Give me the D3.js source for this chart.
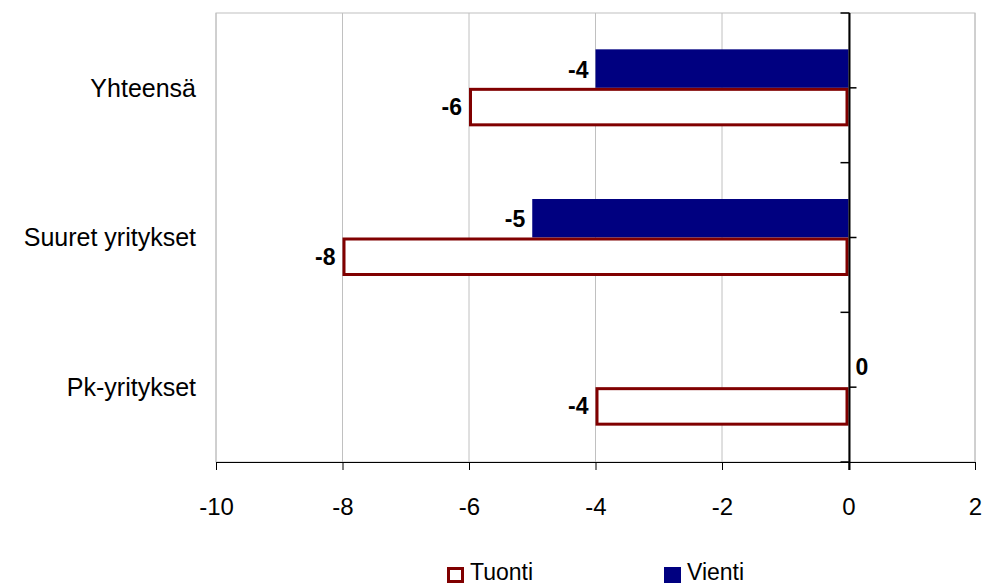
<!DOCTYPE html>
<html><head><meta charset="utf-8">
<script src="https://cdn.jsdelivr.net/npm/d3@7"></script>
<style>body{margin:0;background:#fff}svg{display:block}text{font-family:Arial,"Liberation Sans",sans-serif}</style>
</head><body>
<svg id="c" width="986" height="585"></svg>
<script>
const categories = ["Yhteensä", "Suuret yritykset", "Pk-yritykset"];
const tuonti = [-6, -8, -4];
const vienti = [-4, -5, 0];
const xTicks = [-10, -8, -6, -4, -2, 0, 2];
const seriesNames = ["Tuonti", "Vienti"];

const svg = d3.select("#c");
const L = 216, R = 975, T = 13, B = 462;
const x = d3.scaleLinear().domain([-10, 2]).range([L, R]);
const y = d3.scaleBand().domain(categories).range([T, B]);
const barH = 38.5;

// gridlines
svg.append("g").selectAll("line").data(xTicks).join("line")
  .attr("x1", d => x(d)).attr("x2", d => x(d)).attr("y1", T).attr("y2", B)
  .attr("stroke", "#c0c0c0").attr("stroke-width", 1);
// plot border
svg.append("rect").attr("x", L).attr("y", T).attr("width", R - L).attr("height", B - T)
  .attr("fill", "none").attr("stroke", "#c0c0c0").attr("stroke-width", 1);

// Vienti bars
svg.append("g").selectAll("rect").data(categories).join("rect")
  .attr("x", (d, i) => x(Math.min(0, vienti[i])))
  .attr("y", d => y(d) + y.bandwidth() / 2 - barH)
  .attr("width", (d, i) => Math.abs(x(vienti[i]) - x(0)))
  .attr("height", barH)
  .attr("fill", "#000080");
// Tuonti bars
svg.append("g").selectAll("rect").data(categories).join("rect")
  .attr("x", (d, i) => x(Math.min(0, tuonti[i])) + 1.5)
  .attr("y", d => y(d) + y.bandwidth() / 2 + 1.5)
  .attr("width", (d, i) => Math.abs(x(tuonti[i]) - x(0)) - 3)
  .attr("height", barH - 3)
  .attr("fill", "#fff").attr("stroke", "#800000").attr("stroke-width", 3);

// axes
const xAxis = d3.axisBottom(x).tickValues(xTicks).tickSize(8).tickFormat(d3.format("d"));
const gx = svg.append("g").attr("transform", `translate(0,${B})`).call(xAxis);
gx.attr("font-family", null).attr("font-size", null);
gx.select(".domain").attr("stroke", "#000").attr("d", `M${L},0.5H${R}`);
gx.selectAll(".tick line").attr("stroke", "#000");
gx.selectAll(".tick text").attr("y", 36).attr("font-size", 24).attr("fill", "#000")
  .text(d => d < 0 ? "-" + Math.abs(d) : d);

// vertical axis at 0
const x0 = Math.round(x(0)) + 0.5;
svg.append("line").attr("x1", x0).attr("x2", x0).attr("y1", T).attr("y2", B + 8)
  .attr("stroke", "#000").attr("stroke-width", 2);
const bounds = [T, ...categories.map(c => y(c) + y.bandwidth())];
svg.append("g").selectAll("line").data(bounds).join("line")
  .attr("x1", x0 - 9).attr("x2", x0).attr("y1", d => d).attr("y2", d => d)
  .attr("stroke", "#000").attr("stroke-width", 1.5);
svg.append("g").selectAll("line").data(categories).join("line")
  .attr("x1", x0).attr("x2", x0 + 7).attr("y1", d => y(d) + y.bandwidth() / 2).attr("y2", d => y(d) + y.bandwidth() / 2)
  .attr("stroke", "#000").attr("stroke-width", 1.5);

// category labels
svg.append("g").selectAll("text").data(categories).join("text")
  .attr("x", 196).attr("y", d => y(d) + y.bandwidth() / 2)
  .attr("dy", "0.35em").attr("text-anchor", "end").attr("font-size", 25).attr("fill", "#000")
  .text(d => d);

// value labels
const fmt = v => v < 0 ? "-" + Math.abs(v) : String(v);
svg.append("g").selectAll("text").data(categories).join("text")
  .attr("x", (d, i) => vienti[i] < 0 ? x(vienti[i]) - 7 : x(vienti[i]) + 7)
  .attr("y", d => y(d) + y.bandwidth() / 2 - barH / 2)
  .attr("dy", (d, i) => vienti[i] < 0 ? "0.4em" : "0.3em")
  .attr("text-anchor", (d, i) => vienti[i] < 0 ? "end" : "start")
  .attr("font-size", 23).attr("font-weight", "bold").attr("fill", "#000")
  .text((d, i) => fmt(vienti[i]));
svg.append("g").selectAll("text").data(categories).join("text")
  .attr("x", (d, i) => x(tuonti[i]) - 7)
  .attr("y", d => y(d) + y.bandwidth() / 2 + barH / 2)
  .attr("dy", "0.35em").attr("text-anchor", "end")
  .attr("font-size", 23).attr("font-weight", "bold").attr("fill", "#000")
  .text((d, i) => fmt(tuonti[i]));

// legend
const leg = [{name: seriesNames[0], x: 447}, {name: seriesNames[1], x: 664}];
leg.forEach((l, i) => {
  if (i === 0) {
    svg.append("rect").attr("x", l.x + 1.5).attr("y", 568.5).attr("width", 14).attr("height", 13)
      .attr("fill", "#fff").attr("stroke", "#800000").attr("stroke-width", 3);
  } else {
    svg.append("rect").attr("x", l.x).attr("y", 567).attr("width", 17).attr("height", 16).attr("fill", "#000080");
  }
  svg.append("text").attr("x", l.x + 23).attr("y", 572).attr("dy", "0.35em")
    .attr("font-size", 23).attr("fill", "#000").text(l.name);
});
</script>
</body></html>
